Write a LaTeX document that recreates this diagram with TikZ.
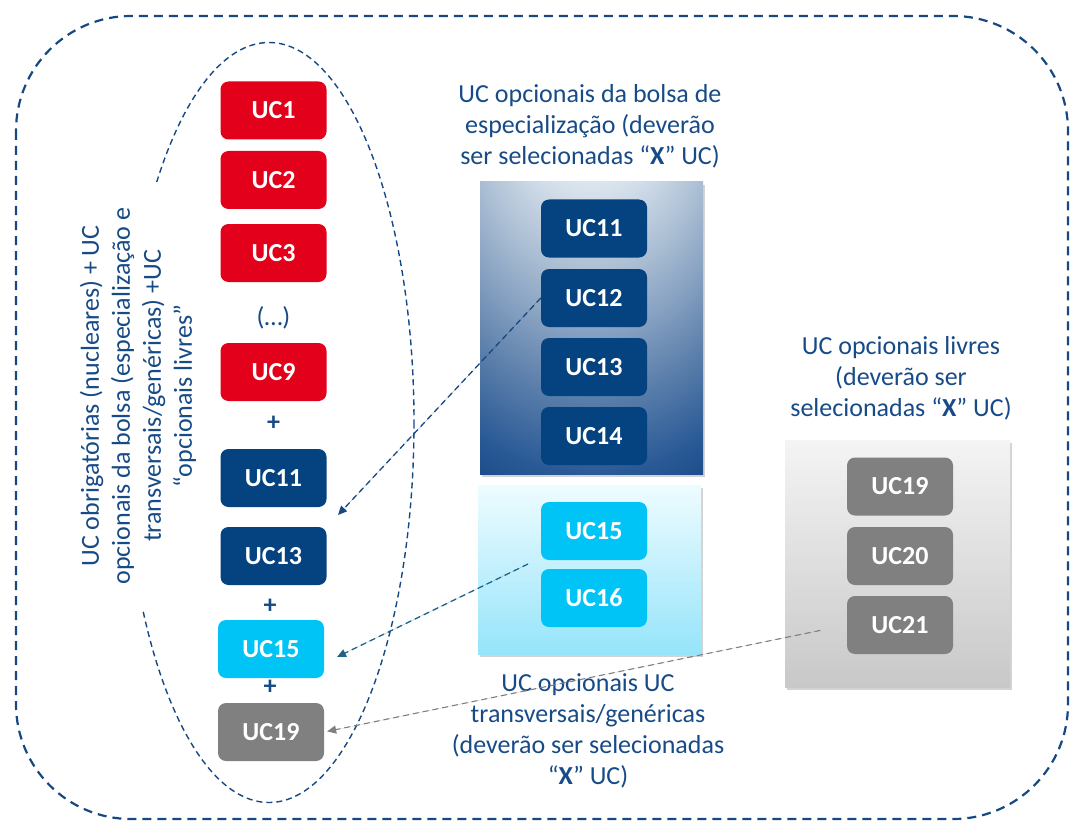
\documentclass[tikz,border=0pt]{standalone}
\usepackage{fontspec}
\setmainfont{Carlito}
\usetikzlibrary{shadows,arrows.meta}
\definecolor{txtblue}{RGB}{23,75,135}
\definecolor{ucred}{RGB}{226,0,26}
\definecolor{ucnavy}{RGB}{4,66,128}
\definecolor{uccyan}{RGB}{0,196,245}
\definecolor{ucgray}{RGB}{128,128,128}
\definecolor{linenavy}{RGB}{22,72,130}
\definecolor{arrteal}{RGB}{30,100,135}
\definecolor{bp0}{RGB}{234,240,246}
\definecolor{bp1}{RGB}{221,230,239}
\definecolor{bp2}{RGB}{168,188,210}
\definecolor{bp3}{RGB}{136,162,194}
\definecolor{bp4}{RGB}{98,132,174}
\definecolor{bp5}{RGB}{42,90,150}
\definecolor{bp6}{RGB}{26,74,136}
\definecolor{lbTop}{RGB}{238,252,255}
\definecolor{lbBot}{RGB}{150,228,250}
\definecolor{gpTop}{RGB}{244,244,244}
\definecolor{gpBot}{RGB}{200,200,200}
\pgfdeclareradialshading{bluepanel}{\pgfpoint{0bp}{50bp}}{color(0bp)=(bp0); color(16.5bp)=(bp1); color(27.5bp)=(bp2); color(33.5bp)=(bp3); color(40bp)=(bp4); color(50bp)=(bp5); color(55bp)=(bp6); color(100bp)=(bp6)}
\begin{document}
\begin{tikzpicture}[x=1pt,y=-1pt,
  uc/.style={rounded corners=8pt, minimum width=106pt, minimum height=58pt, text=white,
    font=\fontsize{26}{30}\selectfont\bfseries, inner sep=0pt},
  panel/.style={inner sep=0pt, drop shadow={opacity=0.35, shadow xshift=2pt, shadow yshift=-3pt}},
  lbl/.style={text=txtblue, font=\fontsize{26}{31}\selectfont, align=center, inner sep=0pt},
  plus/.style={text=txtblue, font=\fontsize{26}{31}\selectfont\bfseries, inner sep=0pt},
  dasharrow/.style={dash pattern=on 6pt off 4pt, line width=1.3pt, -{Triangle[length=9pt,width=8pt]}},
  outerline/.style={draw=linenavy, line width=2.2pt, dash pattern=on 9pt off 6pt, rounded corners=115pt},
  ellline/.style={draw=linenavy, line width=1.4pt, dash pattern=on 6pt off 4pt}
]
\useasboundingbox (0,0) rectangle (1073,821);

% outer dashed frame and ellipse
\draw[outerline] (16,16) rectangle (1068,819);
\draw[ellline] (269,422.5) ellipse [x radius=145, y radius=380];

% rotated description (white box hides the ellipse behind it)
\node[lbl, rotate=90, fill=white, inner xsep=26pt, inner ysep=3pt] (desc) at (138,396) {UC obrigatórias (nucleares) + UC\\opcionais da bolsa (especialização e\\transversais/genéricas) +UC\\“opcionais livres”};

% left column
\node[uc, fill=ucred] (l1) at (273.5,110.5) {UC1};
\node[uc, fill=ucred] (l2) at (273.5,180) {UC2};
\node[uc, fill=ucred] (l3) at (273.5,253) {UC3};
\node[lbl] (dots) at (273.5,318) {(…)};
\node[uc, fill=ucred] (l9) at (273.5,372) {UC9};
\node[plus] (p1) at (273.5,423) {+};
\node[uc, fill=ucnavy] (l11) at (273.5,478) {UC11};
\node[uc, fill=ucnavy] (l13) at (273.5,556) {UC13};
\node[plus] (p2) at (270,606) {+};
\node[uc, fill=uccyan] (l15) at (271,649) {UC15};
\node[plus] (p3) at (270,687) {+};
\node[uc, fill=ucgray] (l19) at (271,732) {UC19};

% middle panels
\node[panel, shading=bluepanel, minimum width=223pt, minimum height=292pt] (pb) at (591.5,328) {};
\node[panel, top color=lbTop, bottom color=lbBot, minimum width=223pt, minimum height=169pt] (lp) at (589.5,569.5) {};
\node[uc, fill=ucnavy] (m11) at (594,228.5) {UC11};
\node[uc, fill=ucnavy] (m12) at (594,298) {UC12};
\node[uc, fill=ucnavy] (m13) at (594,367) {UC13};
\node[uc, fill=ucnavy] (m14) at (594,436) {UC14};
\node[uc, fill=uccyan] (m15) at (594,531) {UC15};
\node[uc, fill=uccyan] (m16) at (594,598) {UC16};

% right panel
\node[panel, shading angle=20, top color=gpTop, bottom color=gpBot, minimum width=225pt, minimum height=247pt] (gp) at (897.5,563.5) {};
\node[uc, fill=ucgray] (r19) at (900,486.5) {UC19};
\node[uc, fill=ucgray] (r20) at (900,556) {UC20};
\node[uc, fill=ucgray] (r21) at (900,625) {UC21};

% labels
\node[lbl] (tspec) at (590,126) {UC opcionais da bolsa de\\especialização (deverão\\ser selecionadas “\textbf{X}” UC)};
\node[lbl] (tlivres) at (901,378) {UC opcionais livres\\(deverão ser\\selecionadas “\textbf{X}” UC)};
\node[lbl] (ttrans) at (588,731) {UC opcionais UC\\transversais/genéricas\\(deverão ser selecionadas\\“\textbf{X}” UC)};

% connectors
\coordinate (a1e) at (338,515);
\coordinate (a2s) at (528,564);
\coordinate (a2e) at (337,657);
\draw[dasharrow, draw=linenavy, fill=linenavy] (m12.west) -- (a1e);
\draw[dasharrow, draw=arrteal, fill=arrteal] (a2s) -- (a2e);
\draw[dasharrow, draw=ucgray, fill=ucgray, line width=1.1pt, shorten <=27pt, shorten >=3pt] (r21.west) -- (l19.east);
\end{tikzpicture}
\end{document}
